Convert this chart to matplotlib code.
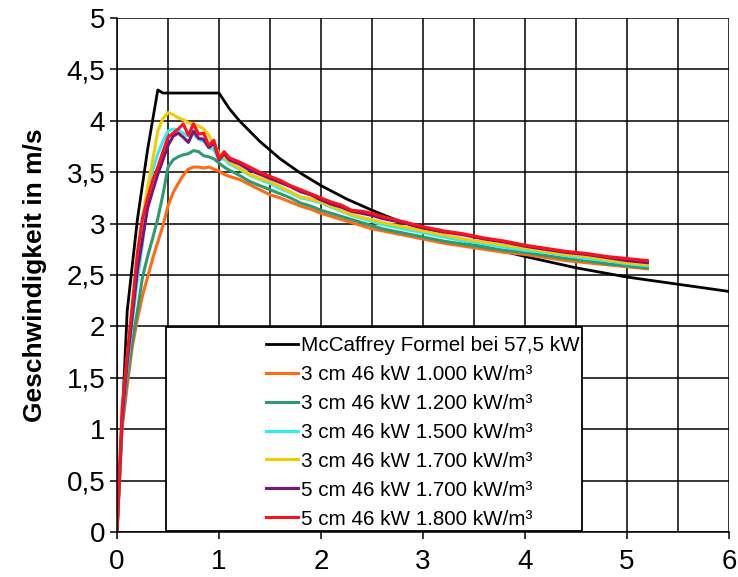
import matplotlib
matplotlib.use("Agg")
import matplotlib.pyplot as plt
from matplotlib.patches import Rectangle
from matplotlib.ticker import MultipleLocator

plt.rcParams['font.family'] = ['Liberation Sans', 'DejaVu Sans']

# McCaffrey reference curve
mc_x = [0, 0.1, 0.2, 0.3, 0.4, 0.45, 0.6, 0.8, 1.0, 1.1, 1.2, 1.4, 1.6, 1.8, 2.0,
        2.25, 2.5, 2.75, 3.0, 3.5, 4.0, 4.5, 5.0, 5.5, 6.0]
mc_y = [0, 2.15, 3.04, 3.72, 4.30, 4.27, 4.27, 4.27, 4.27, 4.12, 4.00, 3.80, 3.63, 3.49, 3.37,
        3.24, 3.13, 3.03, 2.95, 2.80, 2.68, 2.57, 2.48, 2.41, 2.34]

# measurement heights (m)
height = [0, 0.05, 0.1, 0.15, 0.2, 0.25, 0.3, 0.35, 0.4, 0.45, 0.5, 0.55, 0.6, 0.65, 0.7,
          0.75, 0.8, 0.85, 0.9, 0.95, 1.0, 1.05, 1.1, 1.2, 1.3, 1.4, 1.5, 1.6, 1.7, 1.8,
          1.9, 2.0, 2.1, 2.2, 2.3, 2.4, 2.5, 2.6, 2.8, 3.0, 3.2, 3.4, 3.6, 3.8, 4.0, 4.2,
          4.4, 4.6, 4.8, 5.0, 5.2]

v_3cm_1000 = [0, 1.0, 1.42, 1.80, 2.07, 2.30, 2.48, 2.66, 2.82, 2.98, 3.17, 3.30, 3.39, 3.47, 3.53,
              3.55, 3.55, 3.54, 3.55, 3.53, 3.51, 3.48, 3.46, 3.43, 3.38, 3.33, 3.28, 3.25, 3.21, 3.17,
              3.14, 3.10, 3.07, 3.04, 3.01, 2.98, 2.95, 2.93, 2.89, 2.85, 2.81, 2.78, 2.75, 2.72, 2.70, 2.67,
              2.64, 2.62, 2.60, 2.58, 2.56]
v_3cm_1200 = [0, 1.05, 1.50, 1.85, 2.15, 2.48, 2.68, 2.86, 3.05, 3.28, 3.55, 3.62, 3.65, 3.67, 3.68,
              3.71, 3.70, 3.66, 3.65, 3.63, 3.59, 3.55, 3.52, 3.47, 3.41, 3.37, 3.33, 3.29, 3.25, 3.20,
              3.17, 3.13, 3.10, 3.07, 3.04, 3.01, 2.98, 2.95, 2.91, 2.87, 2.83, 2.80, 2.77, 2.74, 2.72, 2.69,
              2.66, 2.64, 2.61, 2.59, 2.57]
v_3cm_1500 = [0, 1.1, 1.6, 2.05, 2.45, 2.80, 3.25, 3.52, 3.68, 3.80, 3.90, 3.92, 3.91, 3.88, 3.85,
              3.87, 3.82, 3.80, 3.74, 3.72, 3.62, 3.63, 3.58, 3.53, 3.47, 3.43, 3.39, 3.34, 3.30, 3.25,
              3.23, 3.20, 3.16, 3.12, 3.08, 3.05, 3.02, 2.99, 2.95, 2.91, 2.87, 2.83, 2.80, 2.77, 2.74, 2.72,
              2.69, 2.66, 2.64, 2.61, 2.59]
v_3cm_1700 = [0, 1.15, 1.7, 2.2, 2.65, 3.05, 3.35, 3.62, 3.90, 4.02, 4.08, 4.06, 4.03, 4.01, 3.98,
              3.97, 3.95, 3.92, 3.86, 3.78, 3.68, 3.65, 3.60, 3.54, 3.48, 3.44, 3.41, 3.36, 3.31, 3.26,
              3.24, 3.21, 3.17, 3.13, 3.09, 3.06, 3.04, 3.01, 2.97, 2.93, 2.89, 2.85, 2.82, 2.79, 2.76, 2.73,
              2.70, 2.68, 2.65, 2.62, 2.60]
v_5cm_1700 = [0, 1.1, 1.65, 2.1, 2.55, 2.85, 3.15, 3.32, 3.48, 3.62, 3.76, 3.85, 3.88, 3.84, 3.79,
              3.90, 3.83, 3.82, 3.74, 3.78, 3.62, 3.68, 3.62, 3.58, 3.52, 3.48, 3.44, 3.40, 3.36, 3.31,
              3.28, 3.23, 3.19, 3.16, 3.12, 3.10, 3.08, 3.05, 3.01, 2.96, 2.92, 2.89, 2.85, 2.82, 2.78, 2.75,
              2.72, 2.70, 2.67, 2.64, 2.62]
v_5cm_1800 = [0, 1.2, 1.72, 2.2, 2.72, 3.05, 3.25, 3.42, 3.55, 3.70, 3.84, 3.88, 3.92, 3.97, 3.86,
              3.97, 3.87, 3.88, 3.76, 3.81, 3.63, 3.70, 3.64, 3.60, 3.55, 3.50, 3.46, 3.42, 3.37, 3.33,
              3.29, 3.25, 3.21, 3.18, 3.13, 3.12, 3.10, 3.07, 3.02, 2.97, 2.93, 2.90, 2.86, 2.83, 2.79, 2.76,
              2.73, 2.71, 2.68, 2.66, 2.64]

labels = ["McCaffrey Formel bei 57,5 kW",
          "3 cm 46 kW 1.000 kW/m³",
          "3 cm 46 kW 1.200 kW/m³",
          "3 cm 46 kW 1.500 kW/m³",
          "3 cm 46 kW 1.700 kW/m³",
          "5 cm 46 kW 1.700 kW/m³",
          "5 cm 46 kW 1.800 kW/m³"]
colors = ["#000000", "#FF6A13", "#2E9A72", "#2EEFEF", "#F2CC00", "#7A1478", "#FF1020"]
y_ticks = [0, 0.5, 1, 1.5, 2, 2.5, 3, 3.5, 4, 4.5, 5]
y_tick_labels = ["0", "0,5", "1", "1,5", "2", "2,5", "3", "3,5", "4", "4,5", "5"]
x_ticks = [0, 1, 2, 3, 4, 5, 6]

fig = plt.figure(figsize=(7.38, 5.77), dpi=100)
ax = fig.add_axes([117/738, 1-532/577, 612/738, 514/577])

series = [v_3cm_1000, v_3cm_1200, v_3cm_1500, v_3cm_1700, v_5cm_1700, v_5cm_1800]
handles = []
h, = ax.plot(mc_x, mc_y, color=colors[0], lw=2.0, label=labels[0])
handles.append(h)
for s, c, lab in zip(series, colors[1:], labels[1:]):
    h, = ax.plot(height, s, color=c, lw=2.2, label=lab)
    handles.append(h)

ax.set_xlim(0, 6)
ax.set_ylim(0, 5)
ax.set_xticks(x_ticks)
ax.set_xticklabels([str(t) for t in x_ticks])
ax.xaxis.set_minor_locator(MultipleLocator(0.5))
ax.set_yticks(y_ticks)
ax.set_yticklabels(y_tick_labels)
ax.grid(True, which='both', color='black', lw=1.1)
ax.set_axisbelow(True)
ax.tick_params(axis='both', which='major', labelsize=20, length=5, width=1.1, direction='out', color='black')
ax.tick_params(axis='x', which='major', pad=7)
ax.tick_params(axis='x', which='minor', length=0)
for sp in ax.spines.values():
    sp.set_color('black')
    sp.set_linewidth(1.1)
ax.spines['top'].set_visible(False)
ax.spines['right'].set_visible(False)
ax.set_ylabel("Geschwindigkeit in m/s", fontsize=19, fontweight='bold', labelpad=14)

# legend frame
rect = Rectangle(((166-117)/612, 0.002), (582-166)/612, (531-327)/514, transform=ax.transAxes,
                 facecolor='white', edgecolor='black', lw=1.3, zorder=4)
ax.add_patch(rect)
leg = ax.legend(handles=handles, loc='upper left', bbox_to_anchor=((266-117)/612, (532-336)/514),
                frameon=False, fontsize=14.9, handlelength=1.55, handletextpad=0.15,
                labelspacing=0.48, borderpad=0.0, borderaxespad=0.0)
leg.set_zorder(5)

fig.savefig("out.png", dpi=100)
